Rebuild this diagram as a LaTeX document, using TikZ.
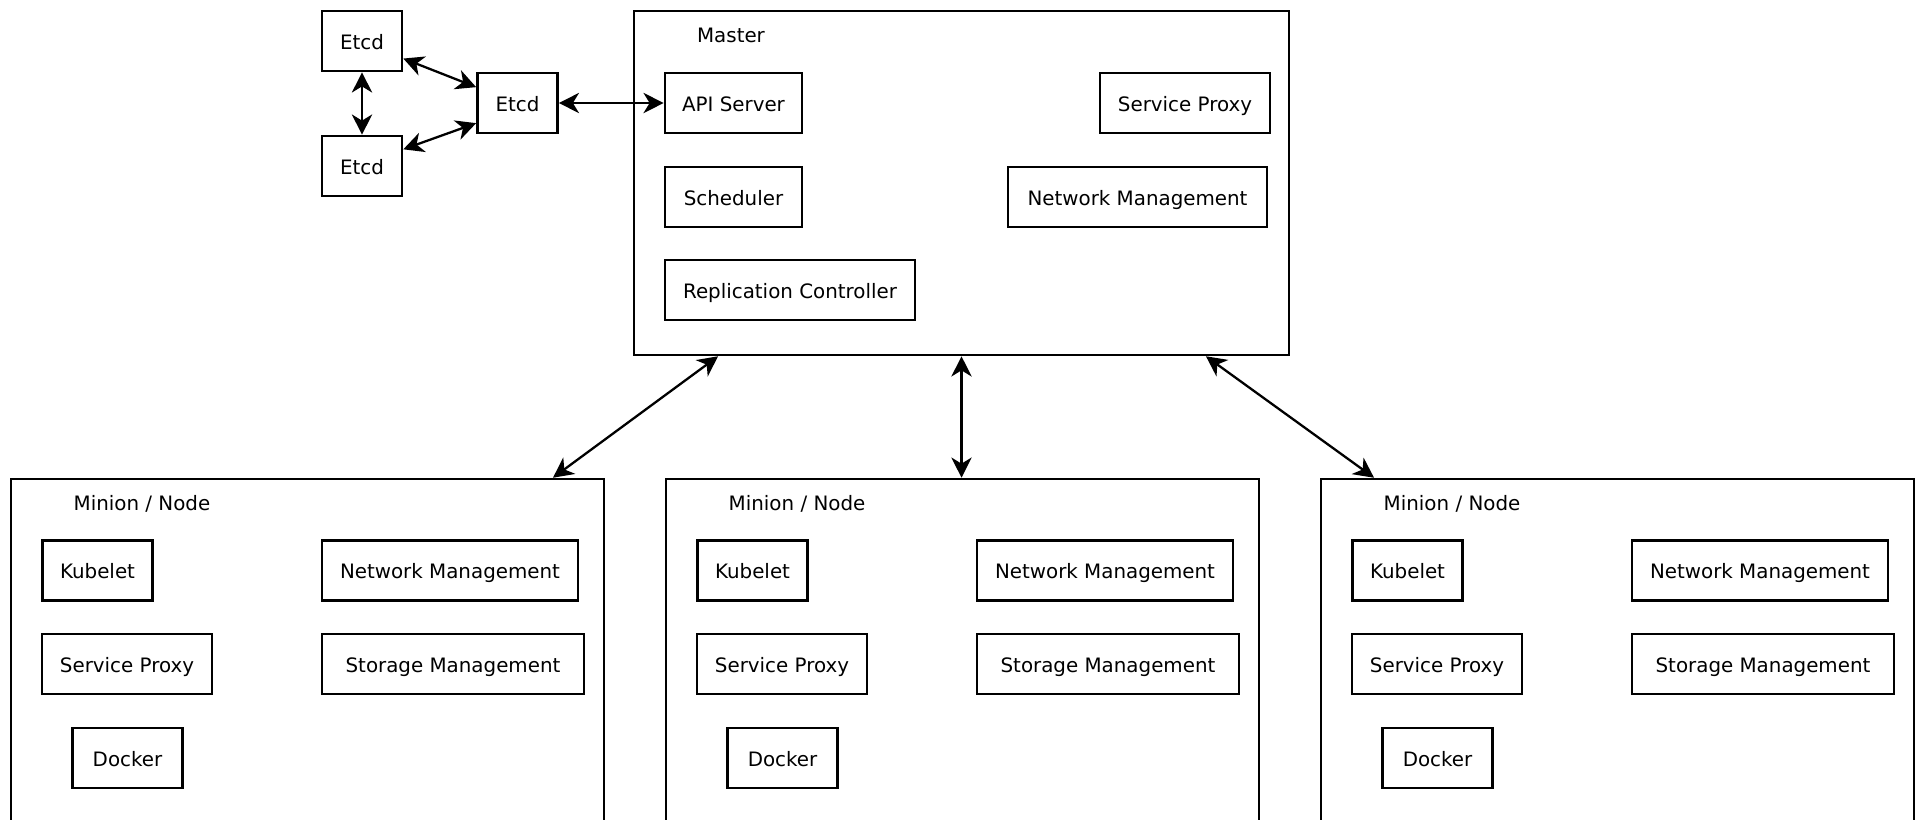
\documentclass[tikz,border=0pt]{standalone}
\usepackage{fontspec}
\setmainfont{DejaVu Sans}
\usetikzlibrary{arrows.meta}

\tikzset{
  part/.style={draw, line width=1.5pt, minimum height=1.2cm, inner sep=0pt,
    text height=9.5pt, text depth=0pt, font=\fontsize{11.3}{13}\selectfont},
  group/.style={draw, line width=1.5pt, inner sep=0pt},
  title/.style={inner sep=0pt, font=\fontsize{11.3}{13}\selectfont},
  link/.style={line width=1.3pt,
    {Stealth[length=11.5pt,width=11.5pt,inset=3.5pt]}-{Stealth[length=11.5pt,width=11.5pt,inset=3.5pt]}}
}

\begin{document}
\begin{tikzpicture}[x=0.02cm, y=-0.02cm]
    \useasboundingbox (0,0) rectangle (1920,819);
    \clip (0,0) rectangle (1920,819);

    % Etcd cluster
    \node[part, minimum width=1.6cm] (etcdA) at (362,41) {Etcd};
    \node[part, minimum width=1.6cm] (etcdB) at (362,166) {Etcd};
    \node[part, minimum width=1.6cm] (etcd) at (517.5,103) {Etcd};

    % Master box and its parts
    \node[group, minimum width=13.1cm, minimum height=6.88cm] (master) at (961.5,183) {};
    \node[title] (mastertitle) at (731,35) {Master};
    \node[part, minimum width=2.74cm] (api) at (733.5,103) {API Server};
    \node[part, minimum width=2.74cm] (sched) at (733.5,197) {Scheduler};
    \node[part, minimum width=5.0cm] (repl) at (790,290) {Replication Controller};
    \node[part, minimum width=3.4cm] (mproxy) at (1185,103) {Service Proxy};
    \node[part, minimum width=5.18cm] (mnet) at (1137.5,197) {Network Management};

    % Minion / Node boxes
    \foreach \i/\dx in {1/0, 2/655, 3/1310} {
      \begin{scope}[xshift=\dx*0.02cm]
        \node[group, minimum width=11.86cm, minimum height=8.44cm] (m\i) at (307.5,690) {};
        \node[title] (mtitle\i) at (142,504) {Minion / Node};
        \node[part, minimum width=2.2cm] (kubelet\i) at (97.5,570.5) {Kubelet};
        \node[part, minimum width=3.4cm] (proxy\i) at (127,664) {Service Proxy};
        \node[part, minimum width=2.2cm] (docker\i) at (127.5,758) {Docker};
        \node[part, minimum width=5.12cm] (net\i) at (450,570.5) {Network Management};
        \node[part, minimum width=5.24cm] (storage\i) at (453,664) {Storage Management};
      \end{scope}
    }

    % Connections
    \draw[link] (etcdA.south) -- (etcdB.north);
    \draw[link] (etcdA.-23) -- (etcd.159);
    \draw[link] (etcdB.22) -- (etcd.206);
    \draw[link] (etcd.east) -- (api.west);
    \draw[link] ([xshift=-4.87cm]master.south) -- ([xshift=4.91cm]m1.north);
    \draw[link] (master.south) -- (master.south |- m2.north);
    \draw[link] ([xshift=4.89cm]master.south) -- ([xshift=-4.87cm]m3.north);

\end{tikzpicture}
\end{document}
